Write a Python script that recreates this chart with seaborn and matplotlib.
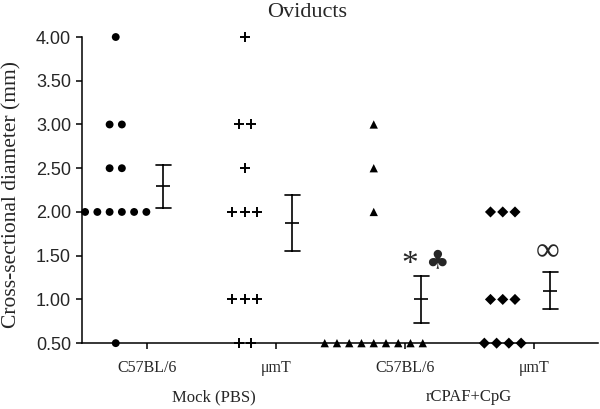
import numpy as np
import pandas as pd
import matplotlib
matplotlib.use("Agg")
import matplotlib.pyplot as plt
import seaborn as sns

# cross-sectional diameter (mm), one value per animal
mock_c57 = [4.0, 3.0, 3.0, 2.5, 2.5, 2.0, 2.0, 2.0, 2.0, 2.0, 2.0, 0.5]
mock_mut = [4.0, 3.0, 3.0, 2.5, 2.0, 2.0, 2.0, 1.0, 1.0, 1.0, 0.5, 0.5]
cpaf_c57 = [3.0, 2.5, 2.0, 0.5, 0.5, 0.5, 0.5, 0.5, 0.5, 0.5, 0.5, 0.5]
cpaf_mut = [2.0, 2.0, 2.0, 1.0, 1.0, 1.0, 0.5, 0.5, 0.5, 0.5]

strains = ["C57BL/6", "\u03bcmT", "C57BL/6", "\u03bcmT"]
treatments = ["Mock (PBS)", "rCPAF+CpG"]
markers = ["o", "+", "^", "D"]
yticks = [0.5, 1.0, 1.5, 2.0, 2.5, 3.0, 3.5, 4.0]

groups = [mock_c57, mock_mut, cpaf_c57, cpaf_mut]

# dot-plot layout: same values side by side, left of the tick; error bar right of it
spacing = 0.095
rows = []
for gi, vals in enumerate(groups):
    vals = np.array(vals)
    for v in np.unique(vals):
        n = (vals == v).sum()
        xs = gi - 0.24 + (np.arange(n) - (n - 1) / 2) * spacing
        for x in xs:
            rows.append({"group": gi, "value": v, "x_dot": x, "x_err": gi + 0.13})
df = pd.DataFrame(rows)

sns.set_style("ticks")
plt.rcParams["font.family"] = ["Liberation Serif", "DejaVu Sans"]

fig, ax = plt.subplots(figsize=(6, 4.09), dpi=100)
fig.subplots_adjust(left=0.137, right=0.997, bottom=0.161, top=0.9095)

for gi, m in enumerate(markers):
    sub = df[df["group"] == gi]
    if m == "+":
        sns.scatterplot(data=sub, x="x_dot", y="value", marker=m, color="black",
                        s=45, linewidth=1.4, clip_on=False, legend=False, ax=ax)
    else:
        sns.scatterplot(data=sub, x="x_dot", y="value", marker=m, color="black",
                        s=32 if m != "^" else 36, edgecolor="none",
                        clip_on=False, legend=False, ax=ax, zorder=3)

sns.pointplot(data=df, x="x_err", y="value", native_scale=True, errorbar="se",
              capsize=0.11, markers="_", linestyles="none", color="black",
              markersize=10, markeredgewidth=1.2,
              err_kws={"linewidth": 1.2}, ax=ax)

ax.set_xlim(-0.5, 3.5)
ax.set_ylim(0.5, 4.0)
ax.set_xticks(range(4))
ax.set_xticklabels(strains, fontsize=11.5)
ax.set_yticks(yticks)
ax.set_yticklabels([f"{t:.2f}" for t in yticks], fontsize=13,
                   family="Liberation Sans")
ax.tick_params(axis="both", length=4, width=1.1, color="black")
ax.tick_params(axis="x", pad=8)
ax.tick_params(axis="y", pad=4)
for s in ["left", "bottom"]:
    ax.spines[s].set_linewidth(1.1)
    ax.spines[s].set_color("black")
sns.despine(ax=ax)

ax.set_xlabel("")
ax.set_ylabel("Cross-sectional diameter (mm)", fontsize=15.5)
ax.yaxis.set_label_coords(-0.118, 0.484)
fig.suptitle("Oviducts", x=0.5125, y=0.992, fontsize=16, va="top")

for xi, lab in zip([0.52, 2.5], treatments):
    ax.text(xi, -0.177, lab, transform=ax.get_xaxis_transform(),
            ha="center", va="center", fontsize=12)

# significance symbols
ax.text(2.04, 1.40, "*", ha="center", va="center", fontsize=24)
ax.text(2.25, 1.44, "\u2663", ha="center", va="center", fontsize=19,
        family="DejaVu Sans")
ax.text(3.11, 1.54, "\u221e", ha="center", va="center", fontsize=24)

fig.savefig("out.png", dpi=100)
